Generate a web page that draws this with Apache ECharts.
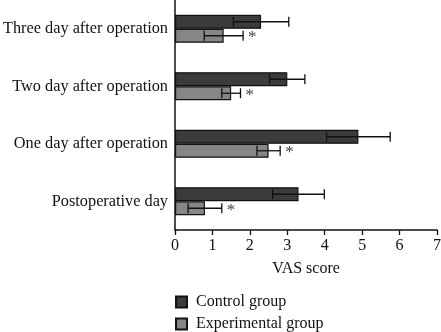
<!DOCTYPE html>
<html>
<head>
<meta charset="utf-8">
<script src="https://cdn.jsdelivr.net/npm/echarts@6/dist/echarts.min.js"></script>
<style>
  html, body { margin: 0; padding: 0; background: #fff; }
  #chart { width: 441px; height: 332px; }
</style>
</head>
<body>
<div id="chart"></div>
<script>
// bottom to top on the category axis
var categories = ["Postoperative day", "One day after operation", "Two day after operation", "Three day after operation"];
var controlMean = [3.3, 4.9, 3.0, 2.3];
var controlSd = [0.69, 0.85, 0.47, 0.74];
var experimentalMean = [0.8, 2.5, 1.5, 1.3];
var experimentalSd = [0.45, 0.31, 0.25, 0.52];
var xTicks = [0, 1, 2, 3, 4, 5, 6, 7];

var FONT = "Liberation Serif";
var BAR_W = 14;

var chart = echarts.init(document.getElementById("chart"));

function errorSeries(name, means, sds, shift, star) {
  return {
    name: name + " err",
    type: "custom",
    z: 5,
    data: means.map(function (m, i) { return [i, m - sds[i], m + sds[i]]; }),
    encode: { x: [1, 2], y: 0 },
    renderItem: function (params, api) {
      var i = api.value(0);
      var lo = api.coord([api.value(1), i]);
      var hi = api.coord([api.value(2), i]);
      var y = lo[1] + shift;
      var h = 5;
      var style = { stroke: "#111", lineWidth: 1.3 };
      var children = [
        { type: "line", shape: { x1: lo[0], y1: y, x2: hi[0], y2: y }, style: style },
        { type: "line", shape: { x1: lo[0], y1: y - h, x2: lo[0], y2: y + h }, style: style },
        { type: "line", shape: { x1: hi[0], y1: y - h, x2: hi[0], y2: y + h }, style: style }
      ];
      if (star) {
        children.push({
          type: "text",
          style: { x: hi[0] + 5, y: y + 2, text: "*", fill: "#444", font: "17px " + FONT, verticalAlign: "middle" }
        });
      }
      return { type: "group", children: children };
    }
  };
}

function legendBox(name, top) {
  return {
    data: [name],
    left: 170,
    top: top,
    icon: "rect",
    itemWidth: 11,
    itemHeight: 11,
    textStyle: { fontFamily: FONT, fontSize: 16, color: "#111", padding: [0, 0, 0, 4] }
  };
}

chart.setOption({
  animation: false,
  grid: { left: 175, right: 4, top: 0, height: 230, outerBoundsMode: "none" },
  legend: [
    legendBox("Control group", 289),
    legendBox("Experimental group", 311)
  ],
  xAxis: {
    type: "value",
    min: 0,
    max: 7,
    interval: 1,
    name: "VAS score",
    nameLocation: "middle",
    nameGap: 31,
    nameTextStyle: { fontFamily: FONT, fontSize: 16, color: "#111" },
    axisLine: { show: true, lineStyle: { color: "#111", width: 1.5 } },
    axisTick: { show: true, length: 5, lineStyle: { color: "#111", width: 1.3 } },
    axisLabel: {
      fontFamily: FONT, fontSize: 16, color: "#111", margin: 8,
      formatter: function (v) { return xTicks.indexOf(v) >= 0 ? String(v) : ""; }
    },
    splitLine: { show: false }
  },
  yAxis: {
    type: "category",
    data: categories,
    axisLine: { show: true, lineStyle: { color: "#111", width: 1.5 } },
    axisTick: { show: false },
    axisLabel: { fontFamily: FONT, fontSize: 16.3, color: "#111", margin: 7 }
  },
  series: [
    {
      name: "Control group",
      type: "bar",
      data: controlMean,
      barWidth: BAR_W,
      barGap: "0%",
      itemStyle: { color: "#3b3b3b", borderColor: "#111", borderWidth: 1.2 }
    },
    {
      name: "Experimental group",
      type: "bar",
      data: experimentalMean,
      barWidth: BAR_W,
      barGap: "0%",
      itemStyle: { color: "#868686", borderColor: "#111", borderWidth: 1.2 }
    },
    errorSeries("Control group", controlMean, controlSd, -BAR_W / 2, false),
    errorSeries("Experimental group", experimentalMean, experimentalSd, BAR_W / 2, true)
  ]
});
</script>
</body>
</html>
